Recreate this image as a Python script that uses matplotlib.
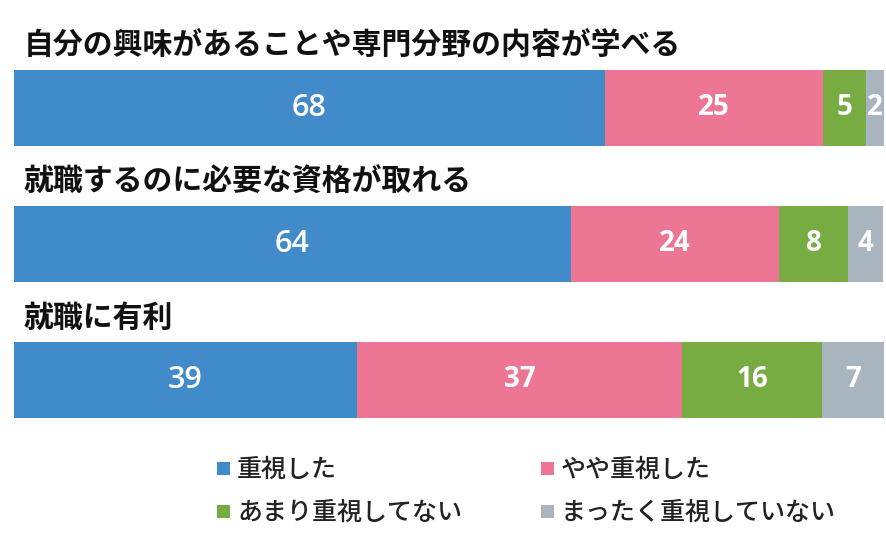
import matplotlib.pyplot as plt
from matplotlib.patches import Rectangle

plt.rcParams['font.family'] = ['Noto Sans CJK JP', 'DejaVu Sans']

# data
items = ['自分の興味があることや専門分野の内容が学べる',
         '就職するのに必要な資格が取れる',
         '就職に有利']
categories = ['重視した', 'やや重視した', 'あまり重視してない', 'まったく重視していない']
# shares (labels are rounded)
shares = [
    [67.9, 25.1, 4.9, 2.1],
    [64.0, 23.9, 8.0, 4.0],
    [39.4, 37.4, 16.1, 7.1],
]
colors = ['#428BCA', '#EC7694', '#77AC43', '#A8B5BE']

fig = plt.figure(figsize=(8.86, 5.5), dpi=100)
W, H = 886, 550
ax = fig.add_axes([14 / W, 0, 870 / W, 1])
ax.set_xlim(0, 100)
# bar centres are 136 px apart, first at y=108 px
ax.set_ylim((H - 108) / 136, -108 / 136)
ax.axis('off')

bar_h = 76 / 136
for i, row in enumerate(shares):
    left = 0
    for j, v in enumerate(row):
        ax.barh(i, v, left=left, height=bar_h, color=colors[j], linewidth=0)
        if j == 0:
            ax.text(left + v / 2, i, f'{round(v)}', color='white', ha='center',
                    va='center', fontsize=22, family=['Open Sans', 'DejaVu Sans'],
                    fontweight='semibold')
        else:
            ax.text(left + v / 2, i, f'{round(v)}', color='white', ha='center',
                    va='center', fontsize=20, family=['Open Sans', 'DejaVu Sans'],
                    fontweight='bold')
        left += v
    ax.text(1.1, i - 0.46, items[i], ha='left', va='center', fontsize=21.5,
            fontweight='bold', color='#111111')

# legend, 2 x 2
leg_x = [217, 541]
leg_y = [469, 512]
for k, name in enumerate(categories):
    r, c = divmod(k, 2)
    x, y = leg_x[c], leg_y[r]
    fig.patches.append(Rectangle((x / W, 1 - (y + 6) / H), 13 / W, 13 / H,
                                 transform=fig.transFigure, color=colors[k],
                                 linewidth=0))
    fig.text((x + 20) / W, 1 - (y + 1) / H, name, ha='left', va='center',
             fontsize=18, fontweight='medium', color='#222222')

fig.savefig('out.png', dpi=100)
